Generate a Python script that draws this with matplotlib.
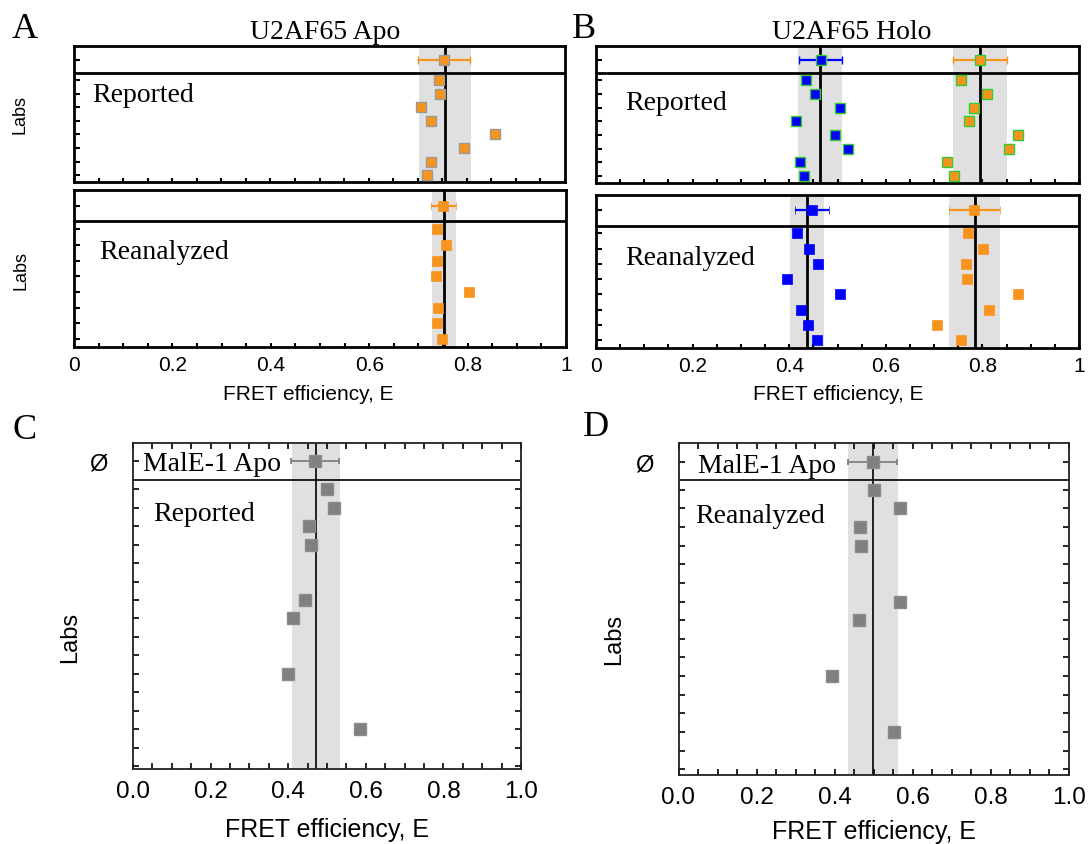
import matplotlib.pyplot as plt

W, H = 1088, 845

SERIF = "Liberation Serif"
SANS = "Liberation Sans"

ORANGE = "#f7941e"
BLUE = "#0000ff"
GREEN = "#33cc33"
GREY = "#808080"
BAND = "#e0e0e0"

# --- U2AF65 Apo (panel A), one value per lab ---
apo_reported = [0.744, 0.746, 0.706, 0.727, 0.858, 0.795, 0.727, 0.718]
apo_reported_stats = (0.755, 0.053, 0.754)      # line, half band, mean marker
apo_reanalyzed = [0.737, 0.757, 0.738, 0.736, 0.802, 0.740, 0.737, 0.748]
apo_reanalyzed_stats = (0.752, 0.025, 0.751)

# --- U2AF65 Holo (panel B): low-FRET (blue) and high-FRET (orange) ---
holo_low_reported = [0.435, 0.453, 0.505, 0.414, 0.495, 0.521, 0.422, 0.431]
holo_low_reported_stats = (0.464, 0.045, 0.465)
holo_high_reported = [0.755, 0.810, 0.783, 0.772, 0.874, 0.856, 0.726, 0.742]
holo_high_reported_stats = (0.795, 0.056, 0.795)
holo_low_reanalyzed = [0.416, 0.442, 0.459, 0.395, 0.506, 0.424, 0.439, 0.458]
holo_low_reanalyzed_stats = (0.437, 0.035, 0.447)
holo_high_reanalyzed = [0.770, 0.801, 0.766, 0.769, 0.874, 0.814, 0.707, 0.755]
holo_high_reanalyzed_stats = (0.784, 0.053, 0.783)

# --- MalE-1 Apo (panels C, D): lab rows that carry a value ---
male_rows = [0, 1, 2, 3, 6, 7, 10, 13]
male_reported = [0.499, 0.519, 0.453, 0.459, 0.444, 0.413, 0.399, 0.584]
male_reported_stats = (0.471, 0.062, 0.469)
male_reanalyzed = [0.500, 0.567, 0.464, 0.468, 0.567, 0.462, 0.393, 0.553]
male_reanalyzed_stats = (0.498, 0.063, 0.497)

u2_labs = list(range(8))
male_labs = list(range(16))
AVG_ROW, SEP_ROW = -1.5, -0.5


def rect(l, r, t, b):
    return [l / W, 1 - b / H, (r - l) / W, (b - t) / H]


def px(x, y):
    return x / W, 1 - y / H


fig = plt.figure(figsize=(W / 100, H / 100), dpi=100)


def u2_axes(r, bottom_labels):
    ax = fig.add_axes(r)
    for s in ax.spines.values():
        s.set_linewidth(2.0)
    ax.set_xlim(0, 1)
    ax.set_ylim(7.5, -2.5)
    ax.set_yticks([AVG_ROW] + u2_labs)
    ax.set_yticklabels([])
    ax.set_xticks([0, 0.2, 0.4, 0.6, 0.8, 1.0])
    ax.set_xticks([i * 0.05 for i in range(21)], minor=True)
    ax.tick_params(axis="y", direction="in", length=4, width=1.5)
    ax.tick_params(axis="x", which="both", direction="in", length=3, width=1.5)
    if bottom_labels:
        ax.set_xticklabels(["0", "0.2", "0.4", "0.6", "0.8", "1"],
                           fontname=SANS, fontsize=15)
        ax.tick_params(axis="x", pad=6)
    else:
        ax.set_xticklabels([])
    ax.axhline(SEP_ROW, color="black", lw=2.0)
    return ax


def u2_series(ax, vals, stats, color, mec, mew):
    line, half, avg = stats
    ax.axvspan(line - half, line + half, color=BAND, lw=0, zorder=0)
    ax.axvline(line, color="black", lw=2.0, zorder=2)
    ax.errorbar(avg, AVG_ROW, xerr=half, fmt="s", color=color, ms=7.5,
                mfc=color, mec=mec, mew=mew, elinewidth=1.6, capsize=3,
                capthick=1.6, zorder=3)
    ax.plot(vals, u2_labs, "s", ms=7.5, mfc=color, mec=mec, mew=mew,
            ls="none", zorder=3)


# Panel A
axA1 = u2_axes(rect(74, 565, 47, 183), False)
u2_series(axA1, apo_reported, apo_reported_stats, ORANGE, "#9a9a9a", 1.0)
axA2 = u2_axes(rect(74, 566, 191, 348), True)
u2_series(axA2, apo_reanalyzed, apo_reanalyzed_stats, ORANGE, ORANGE, 0.5)

# Panel B
axB1 = u2_axes(rect(596, 1079, 47, 184), False)
u2_series(axB1, holo_low_reported, holo_low_reported_stats, BLUE, GREEN, 1.0)
u2_series(axB1, holo_high_reported, holo_high_reported_stats, ORANGE, GREEN, 1.0)
axB2 = u2_axes(rect(596, 1079, 196, 349), True)
u2_series(axB2, holo_low_reanalyzed, holo_low_reanalyzed_stats, BLUE, BLUE, 0.5)
u2_series(axB2, holo_high_reanalyzed, holo_high_reanalyzed_stats, ORANGE, ORANGE, 0.5)


def male_axes(r, ymax, vals, stats):
    ax = fig.add_axes(r)
    for s in ax.spines.values():
        s.set_linewidth(1.3)
        s.set_color("#222222")
    ax.set_xlim(0, 1)
    ax.set_ylim(ymax, -2.5)
    ax.set_yticks([AVG_ROW] + male_labs)
    ax.set_yticklabels(["Ø"] + [""] * len(male_labs), fontname=SANS, fontsize=17)
    ax.set_xticks([0, 0.2, 0.4, 0.6, 0.8, 1.0])
    ax.set_xticks([i * 0.05 for i in range(21)], minor=True)
    ax.set_xticklabels(["0.0", "0.2", "0.4", "0.6", "0.8", "1.0"],
                       fontname=SANS, fontsize=17.5)
    ax.tick_params(axis="y", direction="in", length=4, width=1.2,
                   right=True, pad=18)
    ax.tick_params(axis="x", which="both", direction="in", length=4, width=1.2,
                   top=True, pad=8)
    ax.axhline(SEP_ROW, color="black", lw=1.2)
    line, half, avg = stats
    ax.axvspan(line - half, line + half, color=BAND, lw=0, zorder=0)
    ax.axvline(line, color="black", lw=1.2, zorder=2)
    ax.errorbar(avg, AVG_ROW, xerr=half, fmt="s", color=GREY, ms=9,
                mfc=GREY, mec="#8c8c8c", elinewidth=1.3, capsize=2.5,
                capthick=1.3, zorder=3)
    ax.plot(vals, male_rows, "s", ms=9, mfc=GREY, mec="#8c8c8c",
            ls="none", zorder=3)
    return ax


axC = male_axes(rect(133, 521, 444, 770), 15.15, male_reported, male_reported_stats)
axD = male_axes(rect(678.5, 1069, 444, 776), 15.3, male_reanalyzed, male_reanalyzed_stats)

# panel letters and titles
for letter, x, y in [("A", 12, 38), ("B", 572, 38), ("C", 12, 439), ("D", 583, 436)]:
    fig.text(*px(x, y), letter, fontname=SERIF, fontsize=26, va="baseline")
fig.text(*px(325, 39), "U2AF65 Apo", fontname=SERIF, fontsize=20,
         ha="center", va="baseline")
fig.text(*px(852, 39), "U2AF65 Holo", fontname=SERIF, fontsize=20,
         ha="center", va="baseline")

# labels inside the panels
for txt, x, y in [("Reported", 92, 102), ("Reanalyzed", 99, 259),
                  ("Reported", 625, 110), ("Reanalyzed", 625, 265),
                  ("MalE-1 Apo", 143, 471), ("Reported", 153, 521),
                  ("MalE-1 Apo", 698, 473), ("Reanalyzed", 695, 523)]:
    fig.text(*px(x, y), txt, fontname=SERIF, fontsize=20, va="baseline")

# axis titles
for x, y, fs in [(308, 400, 15), (838, 400, 15), (327, 837, 18), (874, 839, 18)]:
    fig.text(*px(x, y), "FRET efficiency, E", fontname=SANS, fontsize=fs,
             ha="center", va="baseline")
for x, y, fs in [(20, 115, 13), (21, 270, 13), (70, 637, 17), (614, 639, 17)]:
    fig.text(*px(x, y), "Labs", fontname=SANS, fontsize=fs, rotation=90,
             ha="center", va="center")

fig.savefig("out.png", dpi=100)
